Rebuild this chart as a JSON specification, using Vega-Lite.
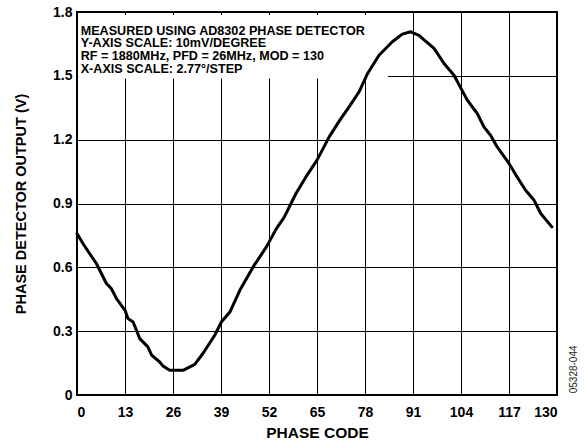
{
  "$schema": "https://vega.github.io/schema/vega-lite/v6.json",
  "width": 480,
  "height": 383,
  "autosize": {"type": "none"},
  "padding": {"left": 77, "top": 12, "right": 28, "bottom": 51},
  "background": "white",
  "config": {
    "font": "Liberation Sans",
    "view": {"stroke": "black", "strokeWidth": 2},
    "axis": {
      "domain": false,
      "ticks": false,
      "grid": true,
      "gridColor": "black",
      "gridOpacity": 1,
      "gridWidth": 1,
      "labelFont": "Liberation Sans",
      "labelFontSize": 14,
      "labelFontWeight": "bold",
      "labelColor": "black",
      "titleFont": "Liberation Sans",
      "titleFontWeight": "bold",
      "titleColor": "black"
    }
  },
  "datasets": {
    "curve": [
      {"code": 0, "v": 0.759}, {"code": 1.6, "v": 0.712}, {"code": 3.4, "v": 0.665},
      {"code": 5.25, "v": 0.618}, {"code": 7.96, "v": 0.524}, {"code": 9.3, "v": 0.5},
      {"code": 10.7, "v": 0.453}, {"code": 13, "v": 0.398}, {"code": 13.8, "v": 0.359},
      {"code": 15.2, "v": 0.343}, {"code": 17, "v": 0.265}, {"code": 19.2, "v": 0.226},
      {"code": 20.2, "v": 0.187}, {"code": 22.4, "v": 0.155}, {"code": 23.3, "v": 0.136},
      {"code": 25.1, "v": 0.116}, {"code": 28.7, "v": 0.116}, {"code": 31.9, "v": 0.144},
      {"code": 34.1, "v": 0.195}, {"code": 37.3, "v": 0.281}, {"code": 39.1, "v": 0.343},
      {"code": 41.4, "v": 0.39}, {"code": 44.1, "v": 0.492}, {"code": 47.7, "v": 0.602},
      {"code": 51.3, "v": 0.696}, {"code": 54, "v": 0.782}, {"code": 56.1, "v": 0.835},
      {"code": 59.3, "v": 0.947}, {"code": 62, "v": 1.025}, {"code": 65, "v": 1.104},
      {"code": 68.3, "v": 1.213}, {"code": 71.5, "v": 1.3}, {"code": 73.7, "v": 1.354},
      {"code": 76.4, "v": 1.425}, {"code": 78.7, "v": 1.511}, {"code": 81.8, "v": 1.597},
      {"code": 85.4, "v": 1.66}, {"code": 88.1, "v": 1.696}, {"code": 90.4, "v": 1.707},
      {"code": 92.6, "v": 1.69}, {"code": 96.7, "v": 1.629}, {"code": 99.4, "v": 1.558},
      {"code": 102.1, "v": 1.503}, {"code": 104, "v": 1.441}, {"code": 105.7, "v": 1.386},
      {"code": 108.4, "v": 1.323}, {"code": 110.2, "v": 1.26}, {"code": 112, "v": 1.221},
      {"code": 113.8, "v": 1.166}, {"code": 117, "v": 1.088}, {"code": 119.2, "v": 1.025},
      {"code": 121.5, "v": 0.962}, {"code": 123.8, "v": 0.915}, {"code": 125.6, "v": 0.853},
      {"code": 128.6, "v": 0.79}
    ],
    "note": [
      {"lines": ["MEASURED USING AD8302 PHASE DETECTOR", "Y-AXIS SCALE: 10mV/DEGREE", "RF = 1880MHz, PFD = 26MHz, MOD = 130", "X-AXIS SCALE: 2.77°/STEP"], "id": "05328-044"}
    ]
  },
  "layer": [
    {
      "data": {"name": "curve"},
      "mark": {"type": "line", "strokeWidth": 3, "color": "black", "opacity": 0},
      "encoding": {
        "x": {
          "field": "code", "type": "quantitative",
          "scale": {"domain": [0, 130], "nice": false},
          "axis": {"values": [0, 13, 26, 39, 52, 65, 78, 91, 104, 117, 130], "title": "PHASE CODE", "titleFontSize": 15.5, "labelPadding": 10, "titlePadding": 6}
        },
        "y": {
          "field": "v", "type": "quantitative",
          "scale": {"domain": [0, 1.8], "nice": false},
          "axis": {"values": [0, 0.3, 0.6, 0.9, 1.2, 1.5, 1.8], "labelExpr": "datum.value == 0 ? '0' : format(datum.value, '.1f')", "title": "PHASE DETECTOR OUTPUT (V)", "titleFontSize": 14.5, "labelPadding": 5, "titlePadding": 24}
        }
      }
    },
    {
      "data": {"name": "note"},
      "mark": {"type": "rect", "fill": "white", "stroke": null},
      "encoding": {
        "x": {"datum": 0.35, "type": "quantitative"},
        "x2": {"datum": 84.2},
        "y": {"datum": 1.488, "type": "quantitative"},
        "y2": {"datum": 1.786}
      }
    },
    {
      "data": {"name": "note"},
      "mark": {"type": "text", "align": "left", "baseline": "top", "font": "Liberation Sans", "fontSize": 12.6, "fontWeight": "bold", "lineHeight": 12.8, "fill": "black", "stroke": null},
      "encoding": {
        "x": {"datum": 1.0, "type": "quantitative"},
        "y": {"datum": 1.741, "type": "quantitative"},
        "text": {"field": "lines"}
      }
    },
    {
      "data": {"name": "curve"},
      "mark": {"type": "line", "strokeWidth": 3, "color": "black", "strokeJoin": "round", "strokeCap": "round"},
      "encoding": {
        "x": {"field": "code", "type": "quantitative"},
        "y": {"field": "v", "type": "quantitative"}
      }
    },
    {
      "data": {"name": "note"},
      "mark": {"type": "text", "angle": 270, "align": "left", "baseline": "middle", "font": "Liberation Sans", "fontSize": 10, "fill": "#222", "stroke": null, "clip": false},
      "encoding": {
        "x": {"datum": 134.5, "type": "quantitative"},
        "y": {"datum": 0.008, "type": "quantitative"},
        "text": {"field": "id"}
      }
    }
  ]
}
